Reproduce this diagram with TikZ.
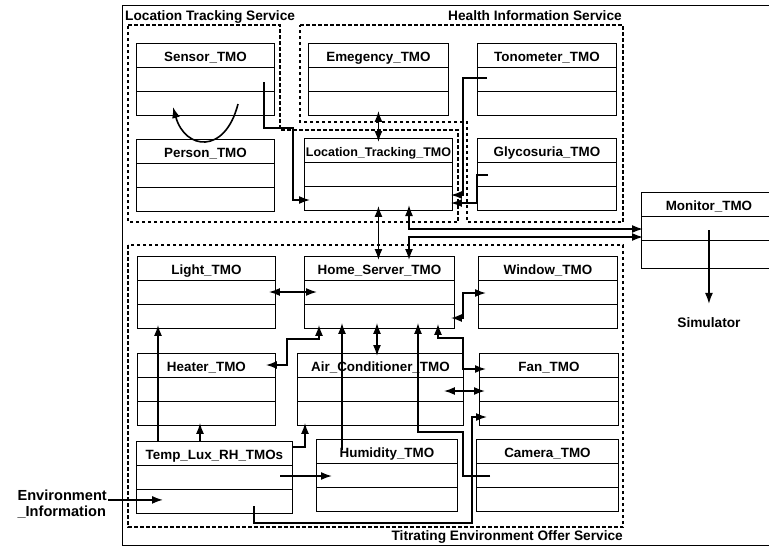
\documentclass[tikz,border=0pt]{standalone}
\usepackage{fontspec}
\setmainfont{Liberation Sans}
\usetikzlibrary{arrows.meta,positioning,calc}
\newcommand{\tmofont}{\fontsize{13.4}{16}\selectfont\bfseries}
\newcommand{\lblfont}{\fontsize{13.7}{16}\selectfont\bfseries}

\begin{document}
\begin{tikzpicture}[x=1pt,y=-1pt,
  >={Latex[length=11pt,width=8pt]},
  tmo/.style={draw,line width=0.9pt,anchor=north west,inner sep=0pt,
    text height=18pt,text depth=54pt,font=\tmofont,
    path picture={\draw[line width=0.9pt]
      ([yshift=-24pt]path picture bounding box.north west) -- ([yshift=-24pt]path picture bounding box.north east)
      ([yshift=-48pt]path picture bounding box.north west) -- ([yshift=-48pt]path picture bounding box.north east);}},
  svc/.style={line width=1.3pt,dash pattern=on 3.5pt off 2.5pt},
  conn/.style={line width=1.6pt},
  lbl/.style={inner sep=1pt,font=\lblfont}
]
  \useasboundingbox (0,0) rectangle (769,547);
  % outer frame
  \draw[line width=0.7pt] (769,5) -- (122,5) -- (122,545) -- (769,545);

  % service groups
  \draw[svc] (128,25) -- (280,25) -- (280,130) -- (458,130) -- (458,222) -- (128,222) -- cycle;
  \draw[svc] (300,25) -- (623,25) -- (623,222) -- (467,222) -- (467,122) -- (300,122) -- cycle;
  \draw[svc] (128,245) rectangle (623,527);
  \node[lbl,anchor=base west] (ltslbl) at (124,20) {Location Tracking Service};
  \node[lbl,anchor=base east] (hislbl) at (623,20) {Health Information Service};
  \node[lbl,anchor=base east] (teoslbl) at (624,540) {Titrating Environment Offer Service};

  % location tracking / health information
  \node[tmo,minimum width=138pt] (sensor) at (136,43) {Sensor\_TMO};
  \node[tmo,minimum width=138pt] (person) at (136,139) {Person\_TMO};
  \node[tmo,minimum width=140pt] (emerg) at (308,43) {Emegency\_TMO};
  \node[tmo,minimum width=139pt] (tono) at (477,43) {Tonometer\_TMO};
  \node[tmo,minimum width=148pt,font=\fontsize{12.5}{15}\selectfont\bfseries] (loc) at (304,138) {Location\_Tracking\_TMO};
  \node[tmo,minimum width=139pt] (glyco) at (477,138) {Glycosuria\_TMO};

  % monitor
  \node[tmo,minimum width=135pt,text depth=58pt] (monitor) at (641,192) {Monitor\_TMO};
  \node[lbl,below=47pt of monitor] (sim) {Simulator};

  % titrating environment offer
  \node[tmo,minimum width=138pt] (light) at (137,256) {Light\_TMO};
  \node[tmo,minimum width=150pt] (home) at (304,256) {Home\_Server\_TMO};
  \node[tmo,minimum width=139pt] (window) at (478,256) {Window\_TMO};
  \node[tmo,minimum width=138pt] (heater) at (137,353) {Heater\_TMO};
  \node[tmo,minimum width=166pt] (aircon) at (297,353) {Air\_Conditioner\_TMO};
  \node[tmo,minimum width=139pt] (fan) at (479,353) {Fan\_TMO};
  \node[tmo,minimum width=156pt] (temp) at (136,441) {Temp\_Lux\_RH\_TMOs};
  \node[tmo,minimum width=141pt] (humid) at (316,439) {Humidity\_TMO};
  \node[tmo,minimum width=142pt] (camera) at (476,439) {Camera\_TMO};

  \node[lbl,align=left,anchor=east,font=\fontsize{14.6}{16}\selectfont\bfseries] (env) at (108,504) {Environment\\\_Information};
  \coordinate (envin) at ($(temp.south west)+(27,-14)$);

  % upper connectors
  \draw[conn,->] ($(sensor.north west)+(102,61)$) .. controls (225,155) and (185,150) .. ($(sensor.north west)+(37,64)$);
  \draw[conn,->] ($(sensor.north east)+(-11,39)$) -- ++(0,46) -- ++(29,0) |- ($(loc.north west)+(6,62)$);
  \draw[conn,<->] ([yshift=5pt]emerg.south) -- ([yshift=-4pt]emerg.south |- loc.north);
  \draw[conn,->] ($(tono.north west)+(10,35)$) -- ++(-24,0) |- ($(loc.north east)+(-2,57)$);
  \draw[conn,->] ($(glyco.north west)+(11,37)$) -- ++(-11,0) |- ($(loc.north east)+(-2,65)$);
  \draw[conn,<->] ([yshift=5pt]loc.south) -- ([yshift=-4pt]loc.south |- home.north);
  \draw[conn,<->] ($(loc.north west)+(105,67)$) |- ($(monitor.north west)+(2,37)$);
  \draw[conn,<->] ($(home.north west)+(105,4)$) |- ($(monitor.north west)+(2,45)$);
  \draw[conn,->,shorten >=12pt] (monitor.center) -- (sim.north);

  % lower connectors
  \draw[conn,<->] ($(light.north east)+(-7,36)$) -- ($(home.north west)+(13,36)$);
  \draw[conn,<->] ($(home.south west)+(15,-4)$) -- ++(0,14) -- ++(-32,0) |- ($(heater.north east)+(-10,12)$);
  \draw[conn,->] ($(temp.north west)+(22,0)$) -- ($(light.south west)+(21,-4)$);
  \draw[conn,->] ($(temp.north west)+(64,0)$) -- ($(heater.south west)+(63,-3)$);
  \draw[conn,->] ($(temp.north east)+(0,6)$) -| ($(aircon.south west)+(8,-3)$);
  \draw[conn,->] ($(temp.north west)+(144,35)$) -- ($(humid.north west)+(16,37)$);
  \draw[conn,->] ($(temp.north west)+(118,65)$) -- ++(0,17) -- ++(218,0) |- ($(fan.north west)+(8,64)$);
  \draw[conn,->] ($(humid.north west)+(26,11)$) -- ($(home.south west)+(38,-6)$);
  \draw[conn,<->] ($(home.south west)+(73,-6)$) -- ($(aircon.north west)+(80,3)$);
  \draw[conn,->] ($(camera.north west)+(14,37)$) -- ++(-27,0) -- ++(0,-44) -| ($(home.south west)+(114,-6)$);
  \draw[conn,<->] ($(home.south west)+(134,-5)$) -- ++(0,14) -- ++(25,0) |- ($(fan.north west)+(7,16)$);
  \draw[conn,<->] ($(home.north east)+(-4,62)$) -- ++(12,0) |- ($(window.north west)+(8,37)$);
  \draw[conn,<->] ($(aircon.north east)+(-20,38)$) -- ($(fan.north west)+(6,38)$);
  \draw[conn,->] (env.east |- envin) -- (envin);
\end{tikzpicture}
\end{document}
